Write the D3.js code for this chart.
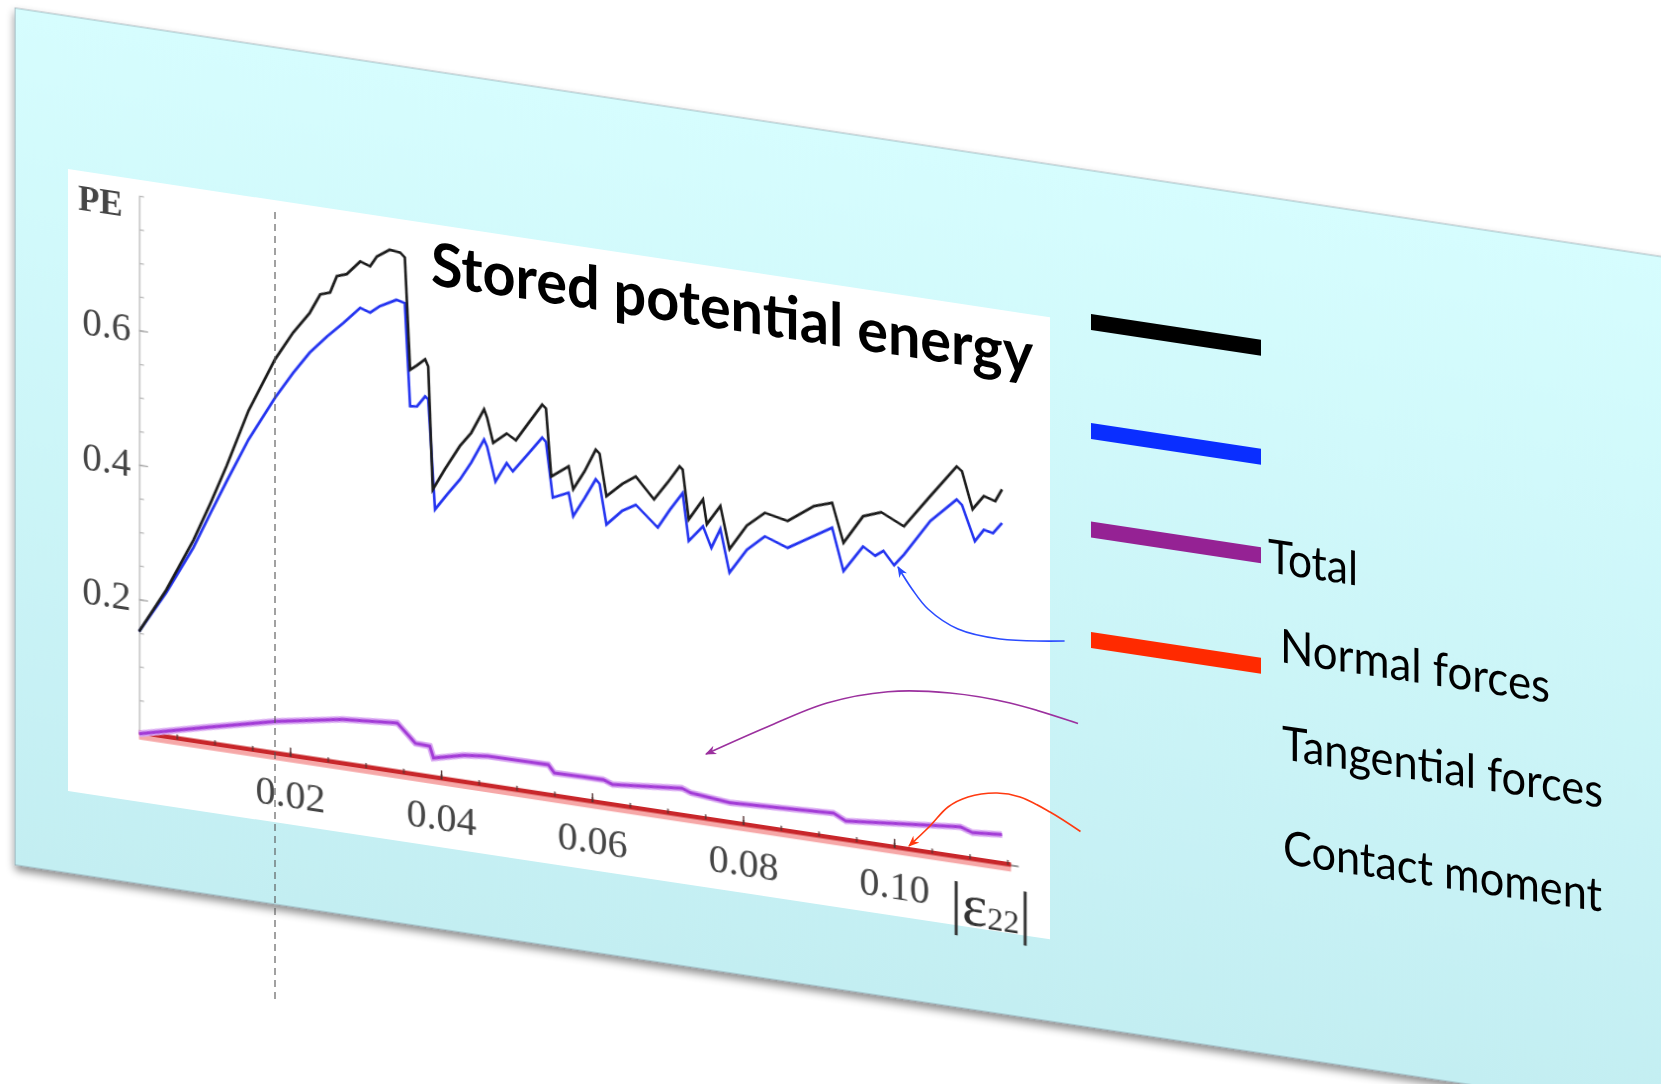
<!DOCTYPE html>
<html>
<head>
<meta charset="utf-8">
<script src="https://cdn.jsdelivr.net/npm/d3@7"></script>
<style>
  body { margin: 0; background: #fff; overflow: hidden; }
</style>
</head>
<body>
<svg id="slide"></svg>
<script>
// values: [strain |e22|, PE]
var blackPE = [[0, 0.152], [0.0036, 0.220], [0.0072, 0.300], [0.0095, 0.360], [0.0116, 0.418],
  [0.0145, 0.505], [0.018, 0.587], [0.0204, 0.631],
  [0.0226, 0.664], [0.024, 0.694], [0.0253, 0.699], [0.0262, 0.725], [0.0275, 0.730],
  [0.0293, 0.752], [0.0306, 0.747], [0.0315, 0.763], [0.0332, 0.776], [0.0346, 0.774],
  [0.0352, 0.768], [0.0359, 0.602], [0.0368, 0.610], [0.0379, 0.621], [0.0383, 0.611],
  [0.0389, 0.429], [0.0405, 0.462], [0.0425, 0.500], [0.0440, 0.522], [0.0457, 0.560], [0.0461, 0.548], [0.0469, 0.512],
  [0.0487, 0.529], [0.0499, 0.521], [0.0515, 0.548], [0.0534, 0.580], [0.0539, 0.575], [0.0546, 0.475],
  [0.0569, 0.494], [0.0575, 0.461], [0.0590, 0.490], [0.0605, 0.525], [0.0610, 0.520], [0.0619, 0.458],
  [0.0640, 0.480], [0.0658, 0.494], [0.0682, 0.464], [0.0700, 0.492], [0.0716, 0.519], [0.0720, 0.515], [0.0728, 0.442],
  [0.0747, 0.475], [0.0752, 0.439], [0.0770, 0.469], [0.0782, 0.407], [0.0805, 0.446], [0.0829, 0.469],
  [0.0859, 0.462], [0.0894, 0.490], [0.0918, 0.499], [0.0933, 0.442], [0.0959, 0.486],
  [0.0983, 0.496], [0.1013, 0.480], [0.1048, 0.531], [0.1083, 0.581], [0.1090, 0.575],
  [0.1104, 0.521], [0.1119, 0.543], [0.1134, 0.538], [0.1143, 0.557]];

var bluePE = [[0, 0.152], [0.0036, 0.216], [0.0072, 0.289], [0.0095, 0.345], [0.0116, 0.395],
  [0.0145, 0.462], [0.018, 0.530], [0.0204, 0.571],
  [0.0226, 0.605], [0.0249, 0.633], [0.0271, 0.657], [0.0293, 0.683], [0.0306, 0.678],
  [0.0319, 0.690], [0.0341, 0.703], [0.0352, 0.700], [0.0359, 0.548], [0.0368, 0.549],
  [0.0379, 0.566], [0.0383, 0.562], [0.0392, 0.400], [0.0408, 0.425], [0.0425, 0.450], [0.0440, 0.478], [0.0457, 0.515],
  [0.0461, 0.505], [0.0472, 0.455], [0.0487, 0.485], [0.0495, 0.474], [0.0515, 0.503], [0.0534, 0.531],
  [0.0539, 0.525], [0.0548, 0.444], [0.0569, 0.455], [0.0575, 0.421], [0.0590, 0.450], [0.0605, 0.481],
  [0.0610, 0.475], [0.0619, 0.416], [0.0640, 0.440], [0.0658, 0.452], [0.0687, 0.423], [0.0703, 0.452], [0.0720, 0.480],
  [0.0728, 0.410], [0.0747, 0.435], [0.0758, 0.405], [0.0770, 0.435], [0.0782, 0.372], [0.0805, 0.410],
  [0.0829, 0.434], [0.0859, 0.422], [0.0918, 0.462], [0.0933, 0.400], [0.0959, 0.441],
  [0.0975, 0.430], [0.0986, 0.439], [0.1000, 0.420], [0.1013, 0.438], [0.1048, 0.494], [0.1083, 0.532], [0.1090, 0.525],
  [0.1107, 0.474], [0.1119, 0.493], [0.1131, 0.490], [0.1143, 0.507]];

var purplePE = [[0, 0.0], [0.009, 0.025], [0.0181, 0.049], [0.0269, 0.067], [0.0342, 0.074],
  [0.0366, 0.048], [0.0385, 0.047], [0.0390, 0.030], [0.0430, 0.041], [0.0462, 0.045], [0.0542, 0.046],
  [0.0550, 0.035], [0.0615, 0.036], [0.0627, 0.031], [0.0719, 0.041], [0.0731, 0.036],
  [0.0783, 0.030], [0.0920, 0.038], [0.0936, 0.029], [0.1088, 0.046], [0.1104, 0.040],
  [0.1143, 0.044]];

var redPE = [[0, 0.002], [0.03, 0.002], [0.06, 0.001], [0.09, 0.001], [0.1155, 0.001]];

var xTicks = [0.02, 0.04, 0.06, 0.08, 0.10];
var yTicks = [0.2, 0.4, 0.6];

var swatchColors = ['#000000', '#0a2eff', '#952294', '#ff2a00'];
var legendLabels = ['Total', 'Normal forces', 'Tangential forces', 'Contact moment'];

// ---- layout (flat slide coordinates, then sheared) ----
var W = 1661, H = 1084;
var shear = 0.151;
var swatchY = [167.5, 276.5, 375, 485.5];
var labelY = [391, 479, 576, 680];
var labelX = [1268, 1280, 1282, 1283];
var labelW = [90, 270, 321, 319];

var svg = d3.select('#slide')
    .attr('width', W)
    .attr('height', H);

var defs = svg.append('defs');
var grad = defs.append('linearGradient')
    .attr('id', 'pane')
    .attr('x1', 0).attr('y1', 0).attr('x2', 0).attr('y2', 1);
grad.append('stop').attr('offset', '0%').attr('stop-color', '#d6fdfe');
grad.append('stop').attr('offset', '100%').attr('stop-color', '#c3eef2');

var shadow = defs.append('filter').attr('id', 'shadow')
    .attr('x', '-5%').attr('y', '-5%').attr('width', '110%').attr('height', '115%');
shadow.append('feDropShadow')
    .attr('dx', 0).attr('dy', 5).attr('stdDeviation', 4)
    .attr('flood-color', '#000').attr('flood-opacity', 0.45);

var soft = defs.append('filter').attr('id', 'soft');
soft.append('feGaussianBlur').attr('stdDeviation', 0.6);

function marker(id, color) {
    defs.append('marker')
        .attr('id', id)
        .attr('viewBox', '0 0 10 10')
        .attr('refX', 9).attr('refY', 5)
        .attr('markerWidth', 7).attr('markerHeight', 7)
        .attr('orient', 'auto')
        .append('path')
        .attr('d', 'M0,1 L10,5 L0,9 L3,5 Z')
        .attr('fill', color);
}
marker('arBlue', '#2b4bff');
marker('arPurple', '#9b309e');
marker('arRed', '#ff3a10');

// the slide is tilted: vertical shear
var g = svg.append('g')
    .attr('transform', 'matrix(1,' + shear + ',0,1,0,' + (-shear * 68) + ')');

g.append('rect')
    .attr('x', 15).attr('y', 16)
    .attr('width', 1800).attr('height', 857)
    .attr('fill', 'url(#pane)')
    .attr('stroke', 'rgba(110,130,140,0.55)')
    .attr('stroke-width', 1)
    .attr('filter', 'url(#shadow)');

// white chart area
g.append('rect')
    .attr('x', 68).attr('y', 169)
    .attr('width', 982).attr('height', 622)
    .attr('fill', '#fff');

var x = d3.scaleLinear().domain([0, 0.1]).range([139, 894]);
var y = d3.scaleLinear().domain([0, 0.8]).range([723, 185]);

var plot = g.append('g').attr('filter', 'url(#soft)');

// y axis
var yMinor = d3.range(1, 17).map(function (i) { return i * 0.05; });
plot.append('g')
    .attr('transform', 'translate(' + x(0) + ',0)')
    .call(d3.axisLeft(y).tickValues(yMinor).tickSize(-5).tickSizeOuter(0).tickFormat(''))
    .call(function (a) {
        a.select('.domain').attr('stroke', '#bbb').attr('stroke-width', 1.5);
        a.selectAll('.tick line').attr('stroke', '#bbb').attr('stroke-width', 1.3);
    });
plot.append('g')
    .attr('transform', 'translate(' + x(0) + ',0)')
    .call(d3.axisLeft(y).tickValues(yTicks).tickSize(-9).tickPadding(8).tickFormat(d3.format('.1f')))
    .call(function (a) {
        a.select('.domain').remove();
        a.selectAll('.tick line').attr('stroke', '#aaa').attr('stroke-width', 1.4);
        a.selectAll('.tick text')
            .attr('fill', '#444')
            .style('font-family', '"Liberation Serif", serif')
            .style('font-size', '39px');
    });

// x axis line
plot.append('line')
    .attr('x1', x(0)).attr('x2', x(0.1165))
    .attr('y1', y(0)).attr('y2', y(0))
    .attr('stroke', '#777').attr('stroke-width', 1.5);

var line = d3.line()
    .x(function (d) { return x(d[0]); })
    .y(function (d) { return y(d[1]); });

// contact moment (red) sits on the axis
plot.append('path')
    .datum(redPE)
    .attr('d', line)
    .attr('transform', 'translate(0,3)')
    .attr('fill', 'none')
    .attr('stroke', '#f6a8a8')
    .attr('stroke-width', 8);
plot.append('path')
    .datum(redPE)
    .attr('d', line)
    .attr('fill', 'none')
    .attr('stroke', '#c8282a')
    .attr('stroke-width', 4.5);

// x ticks on top of the red line
var xMinor = d3.range(1, 24).map(function (i) { return i * 0.005; });
plot.append('g')
    .attr('transform', 'translate(0,' + y(0) + ')')
    .call(d3.axisBottom(x).tickValues(xMinor).tickSize(-5).tickSizeOuter(0).tickFormat(''))
    .call(function (a) {
        a.select('.domain').remove();
        a.selectAll('.tick line').attr('stroke', '#553333').attr('stroke-width', 1.3);
    });
plot.append('g')
    .attr('transform', 'translate(0,' + y(0) + ')')
    .call(d3.axisBottom(x).tickValues(xTicks).tickSize(-9).tickPadding(23).tickFormat(d3.format('.2f')))
    .call(function (a) {
        a.select('.domain').remove();
        a.selectAll('.tick line').attr('stroke', '#553333').attr('stroke-width', 1.4);
        a.selectAll('.tick text')
            .attr('fill', '#444')
            .style('font-family', '"Liberation Serif", serif')
            .style('font-size', '40px');
    });

// tangential (purple)
plot.append('path')
    .datum(purplePE)
    .attr('d', line)
    .attr('fill', 'none')
    .attr('stroke', '#d9a8f2')
    .attr('stroke-width', 6.5);
plot.append('path')
    .datum(purplePE)
    .attr('d', line)
    .attr('fill', 'none')
    .attr('stroke', '#a23ad6')
    .attr('stroke-width', 3);

// normal (blue) and total (black)
plot.append('path')
    .datum(bluePE)
    .attr('d', line)
    .attr('fill', 'none')
    .attr('stroke', '#2233f0')
    .attr('stroke-width', 2.6);
plot.append('path')
    .datum(blackPE)
    .attr('d', line)
    .attr('fill', 'none')
    .attr('stroke', '#1a1a1a')
    .attr('stroke-width', 2.6);

// axis labels
plot.append('text')
    .attr('x', 78).attr('y', 208)
    .attr('fill', '#444')
    .style('font-family', '"Liberation Serif", serif')
    .style('font-weight', 'bold')
    .style('font-size', '35px')
    .text('PE');

var xl = plot.append('text')
    .attr('x', 950).attr('y', 788)
    .attr('fill', '#333')
    .style('font-family', '"Liberation Serif", serif')
    .style('font-size', '60px');
xl.append('tspan').text('|ε');
xl.append('tspan').attr('dy', 2).style('font-size', '32px').text('22');
xl.append('tspan').attr('dy', -2).text('|');

// title
g.append('text')
    .attr('x', 431).attr('y', 230)
    .attr('textLength', 602)
    .attr('lengthAdjust', 'spacingAndGlyphs')
    .style('font-family', 'Lato, sans-serif')
    .style('font-weight', 'bold')
    .style('font-size', '60px')
    .attr('fill', '#000')
    .text('Stored potential energy');

// legend swatches and labels
g.selectAll('line.swatch')
    .data(swatchColors)
    .enter()
    .append('line')
    .attr('class', 'swatch')
    .attr('x1', 1091).attr('x2', 1261)
    .attr('y1', function (d, i) { return swatchY[i]; })
    .attr('y2', function (d, i) { return swatchY[i]; })
    .attr('stroke', function (d) { return d; })
    .attr('stroke-width', 16);

g.selectAll('text.lab')
    .data(legendLabels)
    .enter()
    .append('text')
    .attr('class', 'lab')
    .attr('x', function (d, i) { return labelX[i]; })
    .attr('y', function (d, i) { return labelY[i]; })
    .attr('textLength', function (d, i) { return labelW[i]; })
    .attr('lengthAdjust', 'spacingAndGlyphs')
    .style('font-family', 'Lato, sans-serif')
    .style('font-size', '47px')
    .attr('fill', '#000')
    .text(function (d) { return d; });

// screen-space annotations: dashed marker and arrows
svg.append('line')
    .attr('x1', 275).attr('x2', 275)
    .attr('y1', 212).attr('y2', 1001)
    .attr('stroke', '#555')
    .attr('stroke-width', 1.1)
    .attr('stroke-dasharray', '7,5');

var arrows = [
    {color: '#2b4bff', id: 'arBlue', pts: [[1064.6, 641], [1000, 639], [958, 629], [928, 609], [912, 589], [898, 567]]},
    {color: '#9b309e', id: 'arPurple', pts: [[1078, 723.5], [1010, 703], [950, 693], [888, 691.7], [827, 703], [767, 727], [706, 754]]},
    {color: '#ff3a10', id: 'arRed', pts: [[1080.5, 831.5], [1050, 812], [1020, 797], [997, 793], [968, 797], [948, 807], [930, 826], [909, 846]]}
];
var curve = d3.line().curve(d3.curveCatmullRom);
svg.selectAll('path.arrow')
    .data(arrows)
    .enter()
    .append('path')
    .attr('class', 'arrow')
    .attr('d', function (d) { return curve(d.pts); })
    .attr('fill', 'none')
    .attr('stroke', function (d) { return d.color; })
    .attr('stroke-width', 1.6)
    .attr('marker-end', function (d) { return 'url(#' + d.id + ')'; });
</script>
</body>
</html>
